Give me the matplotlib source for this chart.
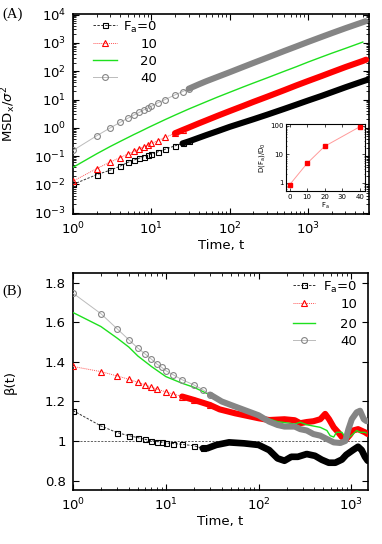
import numpy as np
import matplotlib
matplotlib.use('Agg')
import matplotlib.pyplot as plt
from matplotlib.ticker import LogLocator, NullFormatter, FixedLocator, FixedFormatter

plt.rcParams['font.family'] = ['DejaVu Sans']
plt.rcParams['mathtext.fontset'] = 'dejavusans'

# ---------------- data: panel (A) MSD ----------------
t_msd0 = np.array([1, 2, 3, 4, 5, 6, 7, 8, 9, 10, 12, 15, 20, 25, 30, 40, 50, 70, 100, 150,
                   200, 300, 500, 700, 1000, 1500, 2000, 3000, 5000, 6000])
msd0 = np.array([0.010, 0.022, 0.032, 0.044, 0.060, 0.072, 0.084, 0.096, 0.108, 0.12, 0.14,
                 0.175, 0.23, 0.28, 0.33, 0.44, 0.55, 0.76, 1.08, 1.55, 2.0, 2.9, 4.7, 6.5,
                 9.2, 13.5, 18, 27, 44, 52])

t_msd10 = np.array([1, 2, 3, 4, 5, 6, 7, 8, 9, 10, 12, 15, 20, 25, 30, 40, 50, 70, 100, 150,
                    200, 300, 500, 700, 1000, 1500, 2000, 3000, 5000, 5500])
msd10 = np.array([0.013, 0.036, 0.062, 0.089, 0.118, 0.148, 0.18, 0.21, 0.245, 0.28, 0.35,
                  0.46, 0.64, 0.83, 1.02, 1.42, 1.82, 2.65, 3.9, 6.0, 8.2, 12.5, 21.5, 31,
                  45, 68, 92, 140, 230, 255])

t_msd20 = np.array([1, 2, 3, 4, 5, 6, 7, 8, 9, 10, 15, 20, 30, 50, 70, 100, 150, 200, 300,
                    500, 700, 1000, 1500, 2000, 3000, 5000])
msd20 = np.array([0.04, 0.12, 0.22, 0.33, 0.45, 0.58, 0.71, 0.85, 1.0, 1.15, 1.95, 2.8, 4.6,
                  8.3, 12.2, 18, 28, 38, 58, 100, 142, 210, 320, 430, 640, 1070])

t_msd40 = np.array([1, 2, 3, 4, 5, 6, 7, 8, 9, 10, 12, 15, 20, 25, 30, 40, 50, 70, 100, 150,
                    200, 300, 500, 700, 1000, 1500, 2000, 3000, 5400])
msd40 = np.array([0.158, 0.52, 1.0, 1.56, 2.17, 2.83, 3.5, 4.3, 5.0, 5.8, 7.5, 10, 14.5, 19,
                  24, 34, 44, 63, 92, 143, 195, 300, 520, 740, 1080, 1640, 2200, 3300, 5800])

# inset: D(F_a)/D_0
Fa = np.array([0, 10, 20, 40])
D_ratio = np.array([0.85, 4.8, 19, 92])

# ---------------- data: panel (B) beta ----------------
t_b0 = np.array([1, 2, 3, 4, 5, 6, 7, 8, 9, 10, 12, 15, 20, 25, 28, 35, 48, 70, 100, 130,
                 160, 190, 225, 265, 330, 405, 480, 570, 670, 790, 880, 1040, 1180, 1290,
                 1400, 1500])
b0 = np.array([1.154, 1.076, 1.042, 1.027, 1.017, 1.008, 1.002, 0.997, 0.993, 0.99, 0.987,
               0.983, 0.976, 0.963, 0.963, 0.98, 0.993, 0.988, 0.98, 0.954, 0.912, 0.90,
               0.92, 0.92, 0.934, 0.925, 0.905, 0.89, 0.89, 0.906, 0.93, 0.954, 0.971,
               0.954, 0.92, 0.90])

t_b10 = np.array([1, 2, 3, 4, 5, 6, 7, 8, 10, 12, 15, 20, 30, 38, 56, 100, 130, 190, 245,
                  281, 331, 390, 462, 522, 575, 645, 720, 790, 880, 960, 1040, 1180, 1400,
                  1500])
b10 = np.array([1.377, 1.351, 1.329, 1.312, 1.297, 1.284, 1.272, 1.263, 1.248, 1.238, 1.225,
                1.208, 1.182, 1.16, 1.14, 1.115, 1.106, 1.11, 1.105, 1.09, 1.096, 1.10,
                1.11, 1.137, 1.11, 1.069, 1.044, 1.02, 1.01, 1.03, 1.053, 1.06, 1.044,
                1.035])

t_b20 = np.array([1, 2, 3, 4, 5, 7, 10, 15, 20, 30, 50, 115, 160, 245, 281, 331, 462, 545,
                  590, 645, 690, 790, 880, 960, 1040, 1140, 1240, 1400, 1450])
b20 = np.array([1.65, 1.579, 1.52, 1.475, 1.43, 1.377, 1.326, 1.292, 1.272, 1.233, 1.18,
                1.12, 1.098, 1.086, 1.095, 1.082, 1.069, 1.053, 1.027, 1.02, 1.044, 1.044,
                1.01, 1.02, 1.035, 1.053, 1.044, 1.044, 1.04])

t_b40 = np.array([1, 2, 3, 4, 5, 6, 7, 8, 9, 10, 12, 15, 20, 25, 30, 40, 56, 100, 130, 160,
                  190, 245, 281, 331, 390, 462, 545, 645, 760, 860, 930, 1010, 1140, 1240,
                  1360, 1460])
b40 = np.array([1.748, 1.644, 1.567, 1.512, 1.47, 1.44, 1.414, 1.39, 1.373, 1.356, 1.335,
                1.31, 1.284, 1.26, 1.235, 1.20, 1.174, 1.13, 1.098, 1.081, 1.073, 1.073,
                1.06, 1.053, 1.035, 1.027, 1.01, 0.993, 0.99, 1.0, 1.06, 1.11, 1.145,
                1.153, 1.11, 1.10])

labels = ['F$_\\mathrm{a}$=0', '10', '20', '40']
beta_ticks = [0.8, 1.0, 1.2, 1.4, 1.6, 1.8]
beta_ticklabels = ['0.8', '1', '1.2', '1.4', '1.6', '1.8']

# ---------------- styles ----------------
BLACK, RED, GREEN, GRAY = '#000000', '#ff0000', '#1ee01e', '#858585'
FS = 9.5

# (marker colour, line colour, line style, marker, marker size)
styles = [
    (BLACK, '#333333', (0, (2.5, 1.5)), 's', 3.6),
    (RED, '#ff5555', (0, (1, 1)), '^', 4.0),
    (GREEN, GREEN, '-', None, 0),
    (GRAY, '#bbbbbb', '-', 'o', 4.2),
]

fig = plt.figure(figsize=(3.82, 5.44), dpi=100)
W, H = 382.0, 544.0
ax1 = fig.add_axes([73 / W, 1 - 214 / H, 296 / W, 200 / H])
ax2 = fig.add_axes([73 / W, 1 - 490 / H, 295 / W, 217 / H])


def series(ax, t, y, st, tmark, tband, z, lw_band=4.4):
    mcol, lcol, ls, marker, ms = st
    ax.plot(t, y, color=lcol, ls=ls, lw=0.7, zorder=z)
    m = t <= tmark
    ax.plot(t[m], y[m], ls='none', marker=marker, ms=ms, mfc='none', mec=mcol,
            mew=0.8, zorder=z + 0.1)
    b = t >= tband
    ax.plot(t[b], y[b], color=mcol, lw=lw_band, solid_joinstyle='round',
            solid_capstyle='round', zorder=z + 0.05)


def style_axes(ax):
    for s in ax.spines.values():
        s.set_linewidth(1.2)
    ax.tick_params(which='both', direction='in', top=True, right=True,
                   labelsize=FS, pad=5)
    ax.tick_params(which='major', length=4, width=0.8)
    ax.tick_params(which='minor', length=2, width=0.6)


def key(ax, x0, x1, xt, ys):
    tr = ax.transAxes
    for (mcol, lcol, ls, marker, ms), lab, y in zip(styles, labels, ys):
        lw = 1.0 if marker is None else 0.7
        ax.plot([x0, x1], [y, y], color=lcol, ls=ls, lw=lw, transform=tr, clip_on=False,
                zorder=10)
        if marker is not None:
            ax.plot([(x0 + x1) / 2], [y], ls='none', marker=marker, ms=ms, mfc='none',
                    mec=mcol, mew=0.8, transform=tr, clip_on=False, zorder=11)
        ax.text(xt, y, lab, transform=tr, ha='right', va='center_baseline', fontsize=FS,
                zorder=11)


# ---------- panel A ----------
series(ax1, t_msd0, msd0, styles[0], 30, 25, 2)
series(ax1, t_msd10, msd10, styles[1], 25, 20, 3)
ax1.plot(t_msd20, msd20, color=GREEN, lw=1.0, zorder=4)
series(ax1, t_msd40, msd40, styles[3], 30, 30, 5)

ax1.set_xscale('log')
ax1.set_yscale('log')
ax1.set_xlim(1, 6000)
ax1.set_ylim(9e-4, 1.05e4)
ax1.yaxis.set_major_locator(LogLocator(base=10, numticks=20))
ax1.yaxis.set_minor_locator(LogLocator(base=10, subs=np.arange(2, 10), numticks=100))
ax1.yaxis.set_minor_formatter(NullFormatter())
ax1.xaxis.set_minor_locator(LogLocator(base=10, subs=np.arange(2, 10), numticks=100))
ax1.xaxis.set_minor_formatter(NullFormatter())
style_axes(ax1)
ax1.set_xlabel('Time, t', fontsize=FS, labelpad=1)
ax1.set_ylabel('MSD$_\\mathrm{x}$/$\\sigma^2$', fontsize=FS)
ax1.yaxis.set_label_coords(-0.185, 0.5)

key(ax1, 0.068, 0.149, 0.284, [0.945, 0.855, 0.77, 0.685])

# inset
axin = fig.add_axes([286 / W, 1 - 191 / H, 79 / W, 67 / H])
axin.plot(Fa, D_ratio, color='#ff9a9a', lw=0.7, marker='s', ms=3.0, mfc=RED, mec=RED,
          zorder=3)
axin.set_yscale('log')
axin.set_xlim(-2, 43)
axin.set_ylim(0.52, 115)
axin.xaxis.set_major_locator(FixedLocator([0, 10, 20, 30, 40]))
axin.yaxis.set_major_locator(FixedLocator([1, 10, 100]))
axin.yaxis.set_major_formatter(FixedFormatter(['1', '10', '100']))
axin.yaxis.set_minor_locator(LogLocator(base=10, subs=np.arange(2, 10), numticks=100))
axin.yaxis.set_minor_formatter(NullFormatter())
for s in axin.spines.values():
    s.set_linewidth(0.8)
axin.tick_params(which='both', direction='in', top=True, right=True, labelsize=5, pad=2)
axin.tick_params(which='major', length=2, width=0.5)
axin.tick_params(which='minor', length=1, width=0.4)
axin.set_xlabel('F$_\\mathrm{a}$', fontsize=5, labelpad=1)
axin.set_ylabel('D(F$_\\mathrm{a}$)/D$_0$', fontsize=5, labelpad=2)

# ---------- panel B ----------
ax2.axhline(1.0, color='#222222', lw=0.5, ls=(0, (3, 2)), zorder=1)
series(ax2, t_b0, b0, styles[0], 25, 22, 2, lw_band=4.8)
series(ax2, t_b10, b10, styles[1], 30, 15, 3, lw_band=4.4)
ax2.plot(t_b20, b20, color=GREEN, lw=1.0, zorder=4)
series(ax2, t_b40, b40, styles[3], 30, 28, 5, lw_band=4.4)

ax2.set_xscale('log')
ax2.set_xlim(1, 1510)
ax2.set_ylim(0.752, 1.85)
ax2.yaxis.set_major_locator(FixedLocator(beta_ticks))
ax2.yaxis.set_major_formatter(FixedFormatter(beta_ticklabels))
ax2.xaxis.set_minor_locator(LogLocator(base=10, subs=np.arange(2, 10), numticks=100))
ax2.xaxis.set_minor_formatter(NullFormatter())
style_axes(ax2)
ax2.set_xlabel('Time, t', fontsize=FS, labelpad=1)
ax2.set_ylabel('β(t)', fontsize=FS)
ax2.yaxis.set_label_coords(-0.19, 0.5)

key(ax2, 0.746, 0.820, 0.963, [0.945, 0.862, 0.770, 0.691])

fig.text(2 / W, 1 - 14 / H, '(A)', fontsize=10.5, family='Liberation Serif', va='center')
fig.text(2 / W, 1 - 291 / H, '(B)', fontsize=10.5, family='Liberation Serif', va='center')

fig.savefig('out.png', dpi=100)
